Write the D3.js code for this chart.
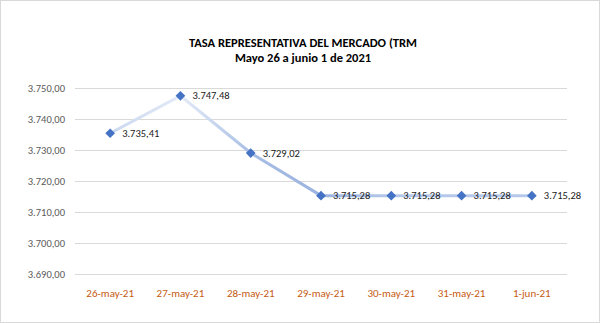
<!DOCTYPE html>
<html>
<head>
<meta charset="utf-8">
<script src="https://cdn.jsdelivr.net/npm/d3@7/dist/d3.min.js"></script>
<style>
  html, body { margin: 0; padding: 0; background: #fff; }
  svg text { font-family: Carlito, Calibri, Lato, "Noto Sans", sans-serif; }
</style>
</head>
<body>
<svg id="chart" width="600" height="323"></svg>
<script>
// TRM (tasa representativa del mercado), COP per USD
const categories = ["26-may-21", "27-may-21", "28-may-21", "29-may-21", "30-may-21", "31-may-21", "1-jun-21"];
const values = [3735.41, 3747.48, 3729.02, 3715.28, 3715.28, 3715.28, 3715.28];
const yTicks = [3690, 3700, 3710, 3720, 3730, 3740, 3750];
const titleLines = ["TASA REPRESENTATIVA DEL MERCADO (TRM", "Mayo 26 a junio 1 de 2021"];
// colour of the line as it passes each point
const lineShades = ["#c9d7ef", "#e4ebf7", "#a8bee5", "#9bb3df", "#b5c8ea", "#b5c8ea", "#b5c8ea"];

const fmt = d3.formatLocale({ decimal: ",", thousands: ".", grouping: [3], currency: ["$", ""] }).format(",.2f");

const svg = d3.select("#chart");
const W = 600, H = 323;
const plot = { left: 75, right: 567, top: 88, bottom: 274 };

// chart frame
svg.append("rect")
  .attr("x", 0.5).attr("y", 0.5)
  .attr("width", W - 1).attr("height", H - 1)
  .attr("fill", "#fff").attr("stroke", "#d9d9d9");

const x = d3.scaleBand().domain(categories).range([plot.left, plot.right]);
const y = d3.scaleLinear().domain([3690, 3750]).range([plot.bottom, plot.top]);
const cx = c => x(c) + x.bandwidth() / 2;

// title
svg.append("text")
  .attr("text-anchor", "middle")
  .attr("font-weight", "bold").attr("font-size", 12.5).attr("fill", "#000")
  .selectAll("tspan").data(titleLines).join("tspan")
  .attr("x", 303).attr("y", (d, i) => 47 + i * 15)
  .text(d => d);

// horizontal grid + y labels
const yAxis = d3.axisLeft(y).tickValues(yTicks).tickSize(-(plot.right - plot.left)).tickPadding(10).tickFormat(fmt);
const gy = svg.append("g").attr("transform", `translate(${plot.left},0)`).call(yAxis);
gy.select(".domain").remove();
gy.selectAll(".tick line").attr("stroke", "#d9d9d9").attr("stroke-width", 1);
gy.selectAll(".tick text").attr("fill", "#595959").attr("font-size", 10.5).attr("x", -10);

// x labels
const xAxis = d3.axisBottom(x).tickSize(0).tickPadding(15);
const gx = svg.append("g").attr("transform", `translate(0,${plot.bottom})`).call(xAxis);
gx.select(".domain").remove();
gx.selectAll(".tick text").attr("fill", "#c55a11").attr("font-size", 11);

// line gradient running left to right
const grad = svg.append("defs").append("linearGradient")
  .attr("id", "lineGrad").attr("gradientUnits", "userSpaceOnUse")
  .attr("x1", cx(categories[0])).attr("x2", cx(categories[categories.length - 1]))
  .attr("y1", 0).attr("y2", 0);
const span = cx(categories[categories.length - 1]) - cx(categories[0]);
grad.selectAll("stop").data(categories).join("stop")
  .attr("offset", c => (cx(c) - cx(categories[0])) / span)
  .attr("stop-color", (c, i) => lineShades[i]);

const pts = categories.map((c, i) => ({ c, v: values[i] }));
svg.append("path")
  .datum(pts)
  .attr("fill", "none")
  .attr("stroke", "url(#lineGrad)")
  .attr("stroke-width", 3)
  .attr("d", d3.line().x(d => cx(d.c)).y(d => y(d.v)));

// diamond markers
svg.append("g").selectAll("path").data(pts).join("path")
  .attr("transform", d => `translate(${cx(d.c)},${y(d.v)})`)
  .attr("d", d3.symbol(d3.symbolDiamond2, 60))
  .attr("fill", "#4472c4");

// data labels
svg.append("g").selectAll("text").data(pts).join("text")
  .attr("x", d => cx(d.c) + 12)
  .attr("y", d => y(d.v))
  .attr("dy", "0.35em")
  .attr("font-size", 10.5)
  .attr("fill", "#1a1a1a")
  .text(d => fmt(d.v));
</script>
</body>
</html>
